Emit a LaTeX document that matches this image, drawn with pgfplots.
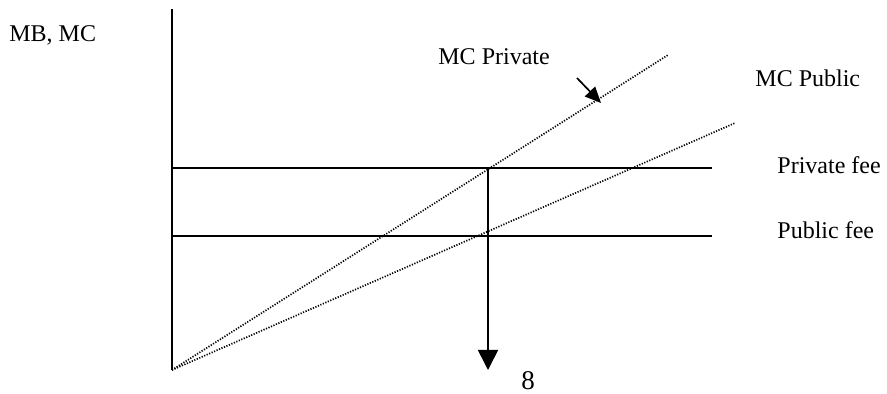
\documentclass[border=0pt]{standalone}
\usepackage{pgfplots}
\pgfplotsset{compat=1.18}
\usepackage{fontspec}
\setmainfont{Liberation Serif}
\usetikzlibrary{arrows.meta}

\tikzset{
    solid line/.style={black, line width=0.85pt},
    dotline/.style={black, line width=0.85pt, dash pattern=on 0.6pt off 0.75pt},
    lbl/.style={font=\fontsize{12}{14}\selectfont, anchor=base west, inner sep=0pt},
}

\begin{document}
\begin{tikzpicture}
\begin{axis}[
    scale only axis,
    width=443.5pt,
    height=197pt,
    xmin=-172, xmax=715,
    ymin=-24, ymax=370,
    hide axis,
    clip=false,
    every axis plot/.append style={no markers},
]
\path (rel axis cs:0,0) (rel axis cs:1,1);
% vertical axis
\addplot[solid line] coordinates {(0,0) (0,361)};
% fees
\addplot[solid line] coordinates {(0,202) (540,202)};
\addplot[solid line] coordinates {(0,134) (540,134)};
% marginal cost curves
\addplot[dotline] coordinates {(0,0) (496,315)};
\addplot[dotline] coordinates {(0,0) (563,247)};
% quantity arrow
\addplot[solid line, -{Triangle[width=10pt,length=10pt]}] coordinates {(316,202) (316,0)};
% pointer to MC Private
\addplot[solid line, -{Triangle[width=7pt,length=8pt]}] coordinates {(405,292) (429,267)};

\node[lbl] at (axis cs:-163,328) {MB, MC};
\node[lbl] at (axis cs:266,305) {MC Private};
\node[lbl] at (axis cs:583,283) {MC Public};
\node[lbl] at (axis cs:605,196) {Private fee};
\node[lbl] at (axis cs:605,131) {Public fee};
\node[lbl, anchor=base, font=\fontsize{13.5}{15}\selectfont] at (axis cs:356,-20) {8};
\end{axis}
\end{tikzpicture}
\end{document}
